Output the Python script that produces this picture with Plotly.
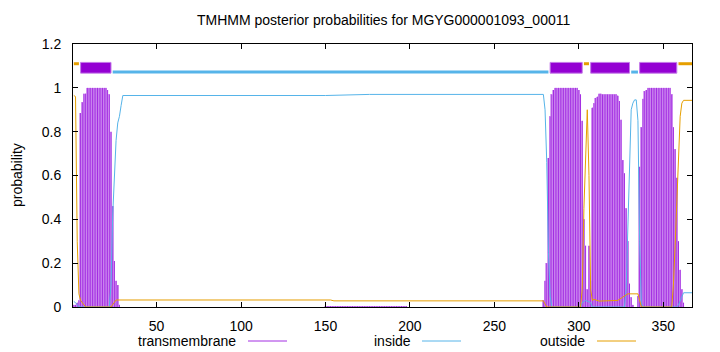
import plotly.graph_objects as go

# ---------------- data ----------------
seq_len = 367
chart_title = "TMHMM posterior probabilities for MGYG000001093_00011"
y_label = "probability"
legend_labels = ["transmembrane", "inside", "outside"]
x_tick_vals = [50, 100, 150, 200, 250, 300, 350]
y_tick_vals = [0, 0.2, 0.4, 0.6, 0.8, 1.0, 1.2]
y_tick_text = ["0", "0.2", "0.4", "0.6", "0.8", "1", "1.2"]

# Viterbi topology
topo_kind = ["outside", "TMhelix", "inside", "TMhelix", "outside",
             "TMhelix", "inside", "TMhelix", "outside"]
topo_start = [1, 5, 24, 283, 303, 307, 331, 336, 359]
topo_end = [4, 23, 282, 302, 306, 330, 335, 358, 367]

# posterior probability of transmembrane, per residue, in blocks
tm_block1_start = 1
tm_block1 = [0.01, 0.01, 0.02, 0.03, 0.885, 0.934, 0.974, 0.974,
             1.0, 1.0, 1.0, 1.0, 1.0, 1.0, 1.0, 1.0, 1.0, 1.0, 1.0, 1.0,
             0.99, 0.97, 0.80, 0.46, 0.21, 0.12, 0.10, 0.01]
tm_block2_start = 150
tm_block2 = [0.004, 0.004, 0.004, 0.004, 0.004, 0.004, 0.004, 0.004, 0.004, 0.004,
             0.004, 0.004, 0.004, 0.004, 0.004, 0.004, 0.004, 0.004, 0.004, 0.004,
             0.004, 0.004, 0.004, 0.004, 0.004, 0.004, 0.004, 0.004, 0.004, 0.004,
             0.004, 0.004, 0.004, 0.004, 0.004, 0.004, 0.004, 0.004, 0.004, 0.004,
             0.004, 0.004, 0.004, 0.004, 0.004, 0.004, 0.004, 0.004, 0.004]
tm_block3_start = 279
tm_block3 = [0.03, 0.12, 0.20, 0.68, 0.87, 0.97, 0.99,
             1.0, 1.0, 1.0, 1.0, 1.0, 1.0, 1.0, 1.0, 1.0, 1.0, 1.0, 1.0, 1.0, 1.0,
             0.99, 0.97, 0.85, 0.40, 0.28, 0.08, 0.28, 0.12,
             0.91, 0.93, 0.954, 0.96, 0.974, 0.974,
             0.97, 0.97, 0.97, 0.97, 0.97, 0.97, 0.97, 0.97, 0.97,
             0.965, 0.94, 0.855, 0.67, 0.61, 0.45, 0.30, 0.107, 0.044, 0.01,
             0.0, 0.0, 0.05, 0.64, 0.82, 0.95, 0.985, 0.99,
             1.0, 1.0, 1.0, 1.0, 1.0, 1.0, 1.0, 1.0, 1.0, 1.0, 1.0, 1.0, 1.0, 1.0,
             0.97, 0.82, 0.72, 0.59, 0.30, 0.17, 0.08, 0.02]

# posterior probability of inside (residue, value) vertices
inside_res = [1, 2, 3, 4, 22, 23, 24, 25, 26, 27, 28, 29, 30, 150, 176, 279, 280,
              281, 282, 283, 284, 301, 302, 304, 307, 308, 327, 328, 329, 330, 331,
              332, 333, 334, 335, 336, 337, 338, 358, 359, 360, 361, 362, 367]
inside_prob = [0.025, 0.02, 0.01, 0.0, 0.0, 0.10, 0.42, 0.62, 0.76, 0.84, 0.87,
               0.92, 0.965, 0.965, 0.97, 0.97, 0.90, 0.66, 0.25, 0.05, 0.0, 0.0,
               0.02, 0.03, 0.02, 0.0, 0.0, 0.08, 0.35, 0.70, 0.90, 0.93, 0.945,
               0.945, 0.85, 0.30, 0.02, 0.0, 0.0, 0.01, 0.03, 0.05, 0.065, 0.065]

# posterior probability of outside (residue, value) vertices
outside_res = [1, 2, 3, 4, 5, 6, 7, 8, 23, 24, 25, 26, 153, 155, 279, 281, 301,
               302, 303, 304, 305, 306, 307, 308, 309, 312, 323, 326, 329, 335,
               336, 337, 355, 356, 357, 358, 359, 360, 361, 362, 367]
outside_prob = [0.965, 0.96, 0.30, 0.06, 0.03, 0.02, 0.01, 0.0, 0.0, 0.01, 0.025,
                0.032, 0.032, 0.028, 0.028, 0.0, 0.0, 0.08, 0.45, 0.70, 0.90, 0.60,
                0.08, 0.03, 0.035, 0.027, 0.03, 0.045, 0.06, 0.06, 0.03, 0.0, 0.0,
                0.10, 0.28, 0.48, 0.68, 0.87, 0.93, 0.943, 0.943]

# ---------------- styling ----------------
C_TM = "#9400d3"
C_TM_DARK = "#a32ee2"
C_TM_LIGHT = "#d9a6f3"
C_IN = "#56b4e9"
C_OUT = "#e69f00"
FONT = "Liberation Sans, Arial, sans-serif"

W, H = 720, 352
L, R, T, B = 73, 28, 44, 45
PW, PH = W - L - R, H - T - B


def px_x(px):
    return (px - L) / PW


def px_y(py):
    return (H - B - py) / PH


tm_res = []
tm_val = []
for start, block in [(tm_block1_start, tm_block1),
                     (tm_block2_start, tm_block2),
                     (tm_block3_start, tm_block3)]:
    for i, v in enumerate(block):
        tm_res.append(start + i)
        tm_val.append(v)

fig = go.Figure()

# transmembrane impulses: light fill bars + dark impulse lines
fig.add_trace(go.Bar(x=tm_res, y=tm_val, width=1.0, marker_color=C_TM_LIGHT,
                     marker_line_width=0, showlegend=False, hoverinfo="skip"))
imp_x, imp_y = [], []
for r, v in zip(tm_res, tm_val):
    imp_x += [r, r, None]
    imp_y += [0, v, None]
fig.add_trace(go.Scatter(x=imp_x, y=imp_y, mode="lines", line=dict(color=C_TM_DARK, width=1),
                         showlegend=False, name=legend_labels[0], hoverinfo="skip"))

# inside / outside curves
fig.add_trace(go.Scatter(x=inside_res, y=inside_prob, mode="lines",
                         line=dict(color=C_IN, width=1), showlegend=False,
                         name=legend_labels[1]))
fig.add_trace(go.Scatter(x=outside_res, y=outside_prob, mode="lines",
                         line=dict(color=C_OUT, width=1), showlegend=False,
                         name=legend_labels[2]))

# topology strip on top
Y_OUT = 1.110
Y_IN = 1.072
TM_LO, TM_HI = 1.067, 1.116
for kind, s, e in zip(topo_kind, topo_start, topo_end):
    if kind == "TMhelix":
        fig.add_trace(go.Scatter(x=[s, e, e, s, s], y=[TM_LO, TM_LO, TM_HI, TM_HI, TM_LO],
                                 mode="lines", fill="toself", fillcolor=C_TM,
                                 line=dict(color="#c47ae8", width=1),
                                 showlegend=False, hoverinfo="skip"))
    else:
        fig.add_trace(go.Scatter(x=[s, e], y=[Y_IN if kind == "inside" else Y_OUT] * 2,
                                 mode="lines",
                                 line=dict(color=C_IN if kind == "inside" else C_OUT, width=3),
                                 showlegend=False, hoverinfo="skip"))

# custom gnuplot-like legend (text then line sample)
leg_text_right = [238, 413, 587]
leg_line = [(248, 287), (422, 461), (597, 636)]
leg_colors = [C_TM_DARK, C_IN, C_OUT]
LEG_Y = 341
annotations = []
shapes = []
for lab, tx, (l0, l1), col in zip(legend_labels, leg_text_right, leg_line, leg_colors):
    annotations.append(dict(text=lab, x=px_x(tx), y=px_y(LEG_Y), xref="paper", yref="paper",
                            xanchor="right", yanchor="middle", showarrow=False,
                            font=dict(family=FONT, size=14, color="black")))
    shapes.append(dict(type="line", xref="paper", yref="paper",
                       x0=px_x(l0), x1=px_x(l1), y0=px_y(LEG_Y), y1=px_y(LEG_Y),
                       line=dict(color=col, width=1)))

# y axis title
annotations.append(dict(text=y_label, x=px_x(17), y=px_y(175), xref="paper", yref="paper",
                        xanchor="center", yanchor="middle", textangle=-90, showarrow=False,
                        font=dict(family=FONT, size=14, color="black")))
# title
annotations.append(dict(text=chart_title, x=px_x(383), y=px_y(20), xref="paper", yref="paper",
                        xanchor="center", yanchor="middle", showarrow=False,
                        font=dict(family=FONT, size=14, color="black")))

fig.update_layout(
    width=W, height=H,
    margin=dict(l=L, r=R, t=T, b=B, pad=0),
    paper_bgcolor="white", plot_bgcolor="white",
    barmode="overlay", bargap=0,
    font=dict(family=FONT, size=14, color="black"),
    annotations=annotations, shapes=shapes,
    showlegend=False,
)
fig.update_xaxes(range=[0.5, seq_len], tickvals=x_tick_vals, ticks="inside", ticklen=5,
                 tickcolor="black", showline=True, linecolor="black", linewidth=1,
                 mirror="ticks", showgrid=False, zeroline=False,
                 tickfont=dict(family=FONT, size=14), ticklabelstandoff=6)
fig.update_yaxes(range=[0, 1.2], tickvals=y_tick_vals, ticktext=y_tick_text, ticks="inside",
                 ticklen=5, tickcolor="black", showline=True, linecolor="black", linewidth=1,
                 mirror="ticks", showgrid=False, zeroline=False,
                 tickfont=dict(family=FONT, size=14), ticklabelstandoff=8)

fig.write_html("out.html")
